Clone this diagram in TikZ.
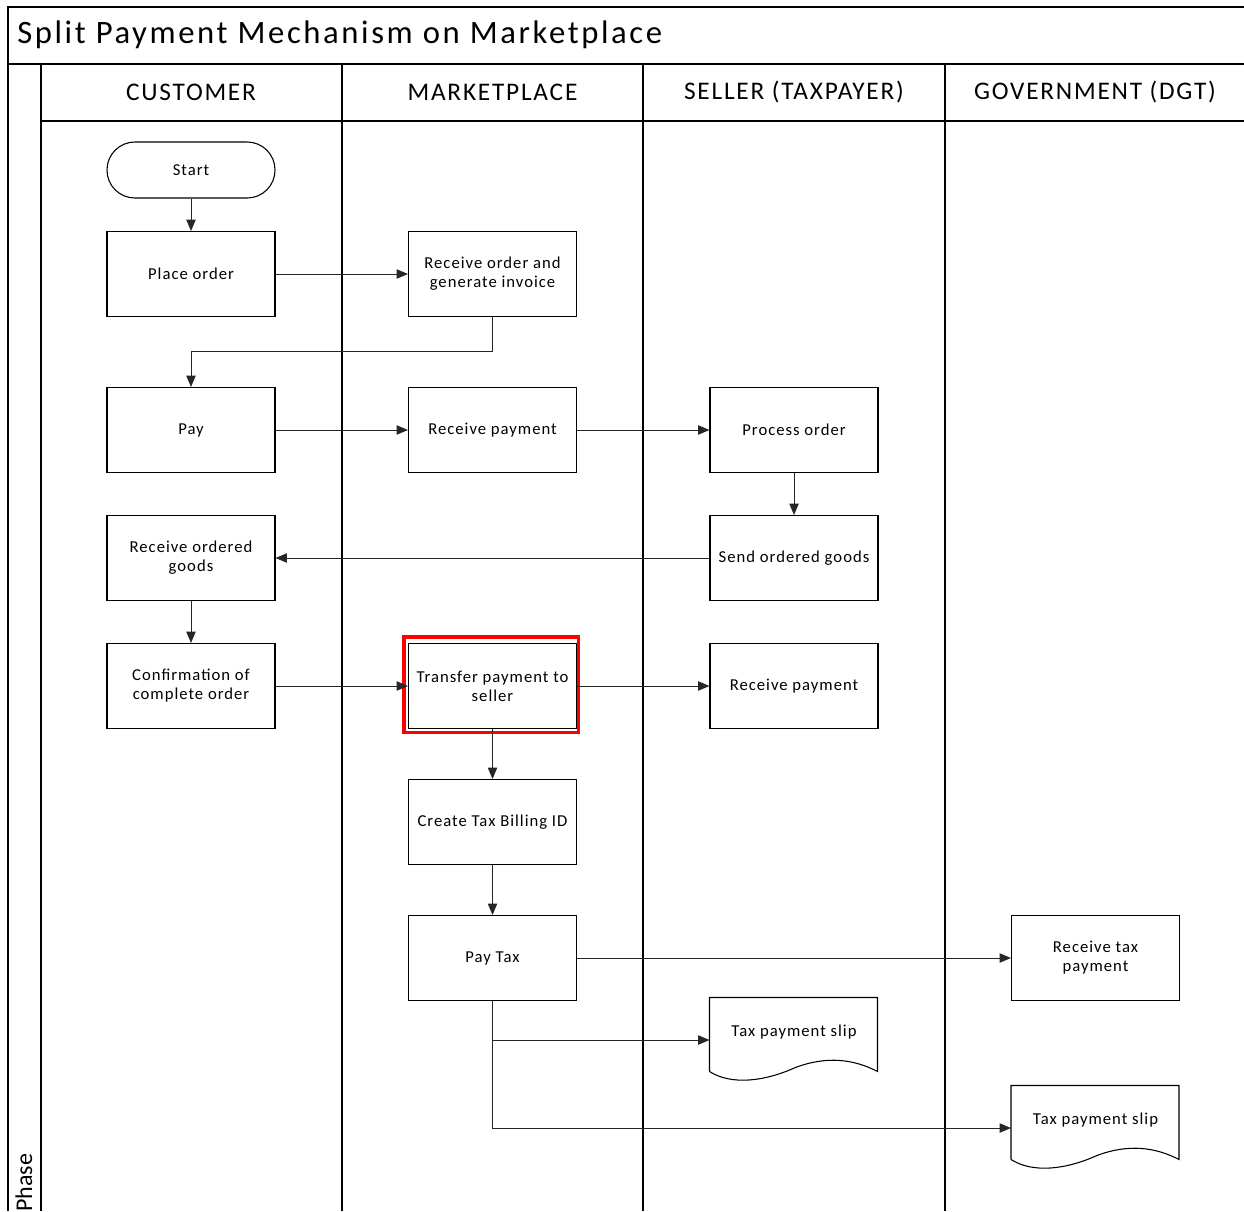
\documentclass[tikz,border=0pt]{standalone}
\usepackage{fontspec}
\setmainfont{Carlito}
\newfontfamily\boxfont[LetterSpace=6]{Carlito}
\newfontfamily\headfont[LetterSpace=7]{Carlito}
\newfontfamily\titlefont[LetterSpace=8]{Carlito}
\usetikzlibrary{arrows.meta,calc}

\begin{document}
\begin{tikzpicture}[x=0.75pt,y=-0.75pt,>={Triangle[length=8.5pt,width=7pt]},
  frame/.style={black,line width=1.1pt},
  proc/.style={draw,line width=0.8pt,minimum width=126pt,minimum height=63.75pt,
    align=center,inner sep=2pt,font=\boxfont\fontsize{12.5}{14.25}\selectfont},
  term/.style={proc,minimum height=42pt,rounded corners=20.9pt},
  doc/.style={proc,draw=none,minimum height=63pt,text height=8.5pt,text depth=14pt},
  flow/.style={->,black!85,line width=0.6pt},
  hilite/.style={red,line width=2.3pt},
  lanehead/.style={font=\headfont\fontsize{19}{21}\selectfont}]
  \useasboundingbox (0,0) rectangle (1244,1211);

  % pool frame, title and lanes
  \draw[frame] (8,1211) -- (8,7) -- (1244,7);
  \draw[frame] (8,64) -- (1244,64);
  \draw[frame] (41,121) -- (1244,121);
  \foreach \lx in {41,342,643,945}
    \draw[frame] (\lx,64) -- (\lx,1211);
  \node[anchor=west,inner sep=0,font=\titlefont\fontsize{24.5}{27}\selectfont] (title) at (17,35)
    {Split Payment Mechanism on Marketplace};
  \node[lanehead] (hcust) at (191,92) {CUSTOMER};
  \node[lanehead] (hmark) at (492.5,92) {MARKETPLACE};
  \node[lanehead] (hsell) at (794,92) {SELLER (TAXPAYER)};
  \node[lanehead] (hgov) at (1095,92) {GOVERNMENT (DGT)};
  \node[rotate=90,anchor=west,inner sep=0,font=\fontsize{18}{20}\selectfont] (phase)
    at (24,1212) {Phase};

  % customer
  \node[term] (start) at (191,170) {Start};
  \node[proc] (place) at (191,274) {Place order};
  \node[proc] (pay) at (191,430) {Pay};
  \node[proc] (recvGoods) at (191,558) {Receive ordered\\goods};
  \node[proc] (confirm) at (191,686) {Confirmation of\\complete order};

  % marketplace
  \node[proc] (recvOrder) at (492.5,274) {Receive order and\\generate invoice};
  \node[proc] (recvPay) at (492.5,430) {Receive payment};
  \node[proc] (transfer) at (492.5,686) {Transfer payment to\\seller};
  \node[proc] (billing) at (492.5,822) {Create Tax Billing ID};
  \node[proc] (payTax) at (492.5,958) {Pay Tax};
  \draw[hilite] ($(transfer.north west)+(-4,-6)$) rectangle ($(transfer.south east)+(1,3)$);

  % seller
  \node[proc] (process) at (794,430) {Process order};
  \node[proc] (send) at (794,558) {Send ordered goods};
  \node[proc] (sellPay) at (794,686) {Receive payment};
  \node[doc] (slipA) at (794,1040) {Tax payment slip};

  % government
  \node[proc] (recvTax) at (1095.5,958) {Receive tax\\payment};
  \node[doc] (slipB) at (1095.5,1128) {Tax payment slip};

  % document outlines with wavy bottom
  \foreach \d in {slipA,slipB}
    \draw[line width=0.8pt,shift={(\d.north west)}] (0,74) -- (0,0) -- (168,0) -- (168,74)
      .. controls (145,62) and (118,58) .. (86,70)
      .. controls (55,84) and (22,88) .. (0,74);

  % flows
  \draw[flow] (start) -- (place);
  \draw[flow] (place) -- (recvOrder);
  \draw[flow] (recvOrder.south) -- ++(0,34) -| (pay.north);
  \draw[flow] (pay) -- (recvPay);
  \draw[flow] (recvPay) -- (process);
  \draw[flow] (process) -- (send);
  \draw[flow] (send) -- (recvGoods);
  \draw[flow] (recvGoods) -- (confirm);
  \draw[flow] (confirm) -- (transfer);
  \draw[flow] (transfer) -- (sellPay);
  \draw[flow] (transfer) -- (billing);
  \draw[flow] (billing) -- (payTax);
  \draw[flow] (payTax) -- (recvTax);
  \draw[flow] (payTax.south |- slipA.west) -- (slipA.west);
  \draw[flow] (payTax.south) |- (slipB.west);
\end{tikzpicture}
\end{document}
